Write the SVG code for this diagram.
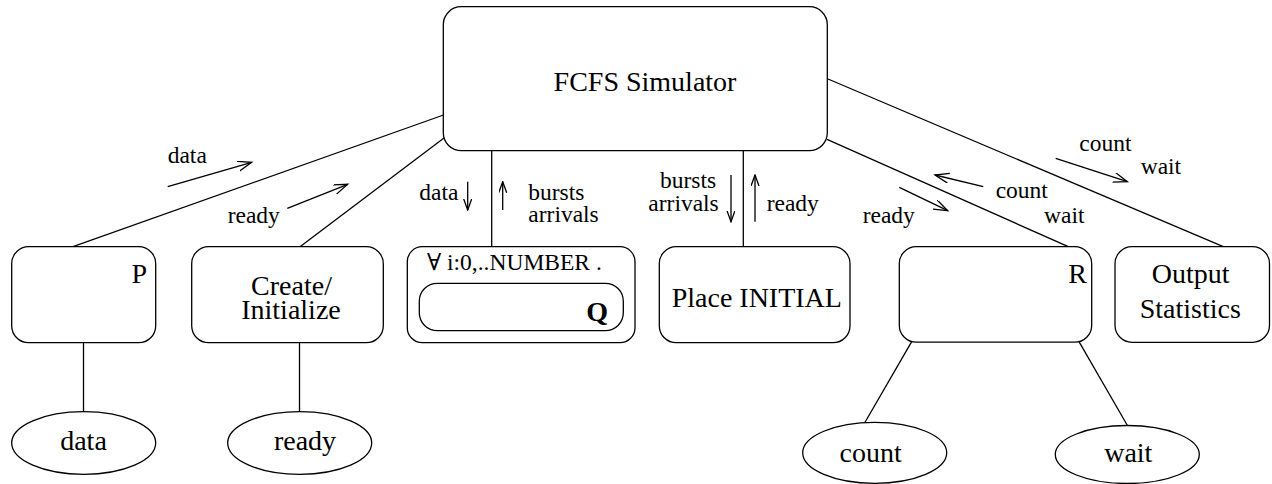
<svg xmlns="http://www.w3.org/2000/svg" width="1272" height="484" viewBox="0 0 1272 484">
  <style>
    .box { fill: #fff; stroke: #000; stroke-width: 1.3; }
    .ell { fill: #fff; stroke: #000; stroke-width: 1.3; }
    .ln { fill: none; stroke: #000; stroke-width: 1.3; }
    .flow { fill: none; stroke: #000; stroke-width: 1.3; marker-end: url(#head); }
    .tick { fill: none; stroke: #000; stroke-width: 1.3; marker-end: url(#headSmall); }
    text { font-family: "Liberation Serif", "DejaVu Serif", serif; fill: #000; }
    .big { font-size: 28px; }
    .small { font-size: 23.5px; }
    .mid { text-anchor: middle; }
    .end { text-anchor: end; }
    .bold { font-weight: bold; }
  </style>
  <defs>
    <marker id="head" markerUnits="userSpaceOnUse" markerWidth="16" markerHeight="12" refX="14" refY="5" orient="auto">
      <path d="M0,0 L14,5 L0,10" fill="none" stroke="#000" stroke-width="1.3"/>
    </marker>
    <marker id="headSmall" markerUnits="userSpaceOnUse" markerWidth="12" markerHeight="10" refX="11" refY="4" orient="auto">
      <path d="M0,0 L11,4 L0,8" fill="none" stroke="#000" stroke-width="1.3"/>
    </marker>
  </defs>

  <!-- links between the simulator and its parts, plus data-flow hints -->
  <g id="connectors">
    <line class="ln" x1="443.5" y1="115" x2="73" y2="246.7"/>
    <line class="ln" x1="444" y1="138" x2="300" y2="246.7"/>
    <line class="ln" x1="491.7" y1="150.7" x2="491.7" y2="246.7"/>
    <line class="ln" x1="743.3" y1="150.7" x2="743.3" y2="246.7"/>
    <line class="ln" x1="827" y1="139.3" x2="1068.3" y2="246.7"/>
    <line class="ln" x1="828" y1="79" x2="1223.3" y2="246.7"/>
    <line class="ln" x1="83.5" y1="342.7" x2="83.5" y2="412"/>
    <line class="ln" x1="299.5" y1="342.7" x2="299.5" y2="412"/>
    <line class="ln" x1="911.7" y1="341.7" x2="864" y2="424"/>
    <line class="ln" x1="1079" y1="341.7" x2="1127.7" y2="426"/>

    <!-- flow arrows -->
    <line class="flow" x1="167.7" y1="186.7" x2="251.7" y2="162.3"/>
    <line class="flow" x1="287.3" y1="208.3" x2="347.7" y2="184.3"/>
    <line class="flow" x1="899.3" y1="187.3" x2="947.7" y2="210.7"/>
    <line class="flow" x1="983.3" y1="186.7" x2="935" y2="175"/>
    <line class="flow" x1="1055.7" y1="158.3" x2="1127.3" y2="181.7"/>
    <line class="tick" x1="467.7" y1="181.7" x2="467.7" y2="210"/>
    <line class="tick" x1="502.7" y1="210" x2="502.7" y2="181.7"/>
    <line class="tick" x1="731" y1="175" x2="731" y2="221.7"/>
    <line class="tick" x1="755" y1="221.7" x2="755" y2="175"/>

    <!-- flow labels -->
    <text class="small" x="167.7" y="163.3">data</text>
    <text class="small" x="227.7" y="223.3">ready</text>
    <text class="small" x="419.3" y="200">data</text>
    <text class="small" x="528.3" y="200">bursts</text>
    <text class="small" x="528.3" y="221.7">arrivals</text>
    <text class="small" x="660" y="188.3">bursts</text>
    <text class="small" x="648.3" y="211">arrivals</text>
    <text class="small" x="766.7" y="211">ready</text>
    <text class="small" x="862.7" y="222.7">ready</text>
    <text class="small" x="995.7" y="198.3">count</text>
    <text class="small" x="1044" y="222.7">wait</text>
    <text class="small" x="1079.3" y="150.7">count</text>
    <text class="small" x="1140.7" y="174">wait</text>
  </g>

  <g id="fcfs-simulator">
    <rect class="box" x="443.3" y="6.7" width="384" height="144" rx="18" ry="18"/>
    <text class="big mid" x="645" y="91">FCFS Simulator</text>
  </g>

  <g id="process-p">
    <rect class="box" x="11.7" y="246.7" width="144" height="96" rx="17" ry="17"/>
    <text class="big end" x="147" y="282.7">P</text>
  </g>

  <g id="create-initialize">
    <rect class="box" x="191.7" y="246.7" width="191.6" height="96" rx="17" ry="17"/>
    <text class="big mid" x="291.5" y="295">Create/</text>
    <text class="big mid" x="291" y="318.5">Initialize</text>
  </g>

  <g id="queue-q">
    <rect class="box" x="407.3" y="246.7" width="227.7" height="96" rx="15" ry="15"/>
    <text class="small" x="427" y="270">∀ i:0,..NUMBER .</text>
    <rect class="box" x="419.3" y="283.3" width="204" height="47.4" rx="18" ry="18"/>
    <text class="big end bold" x="608" y="321">Q</text>
  </g>

  <g id="place-initial">
    <rect class="box" x="659.3" y="246.7" width="190.7" height="96" rx="17" ry="17"/>
    <text class="big" x="671.7" y="306.7">Place INITIAL</text>
  </g>

  <g id="process-r">
    <rect class="box" x="899.3" y="246.7" width="192.4" height="95.5" rx="17" ry="17"/>
    <text class="big end" x="1087" y="282.7">R</text>
  </g>

  <g id="output-statistics">
    <rect class="box" x="1115" y="246.7" width="154.5" height="95.6" rx="17" ry="17"/>
    <text class="big mid" x="1190.7" y="282.7">Output</text>
    <text class="big mid" x="1190.3" y="318.3">Statistics</text>
  </g>

  <g id="var-data">
    <ellipse class="ell" cx="83.7" cy="443" rx="72" ry="31.3"/>
    <text class="big mid" x="83.5" y="450">data</text>
  </g>

  <g id="var-ready">
    <ellipse class="ell" cx="299.7" cy="443" rx="72" ry="31.3"/>
    <text class="big mid" x="305" y="450">ready</text>
  </g>

  <g id="var-count">
    <ellipse class="ell" cx="874.7" cy="452.8" rx="72" ry="30.5"/>
    <text class="big mid" x="870.7" y="461.7">count</text>
  </g>

  <g id="var-wait">
    <ellipse class="ell" cx="1127.3" cy="454.5" rx="72" ry="29"/>
    <text class="big mid" x="1128.3" y="461.7">wait</text>
  </g>
</svg>
